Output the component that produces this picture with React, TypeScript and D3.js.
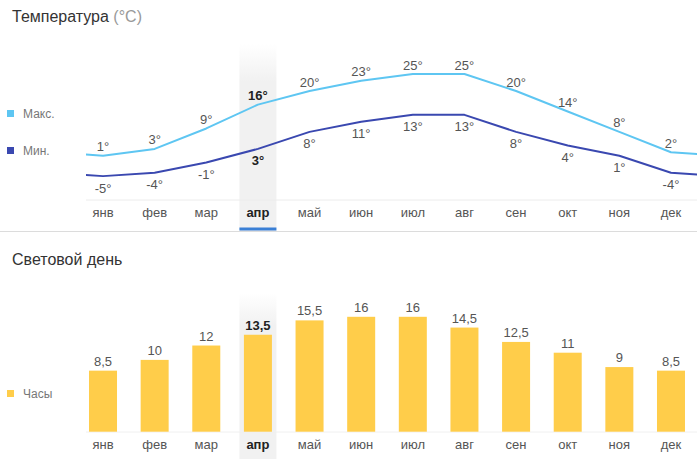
import * as d3 from 'd3'

const months = ['янв', 'фев', 'мар', 'апр', 'май', 'июн', 'июл', 'авг', 'сен', 'окт', 'ноя', 'дек']
const tempMax = [1, 3, 9, 16, 20, 23, 25, 25, 20, 14, 8, 2]
const tempMin = [-5, -4, -1, 3, 8, 11, 13, 13, 8, 4, 1, -4]
const daylight = [8.5, 10, 12, 13.5, 15.5, 16, 16, 14.5, 12.5, 11, 9, 8.5]
const daylightLabels = ['8,5', '10', '12', '13,5', '15,5', '16', '16', '14,5', '12,5', '11', '9', '8,5']
const current = 'апр'

const W = 700
const H = 459
const FONT = '"Liberation Sans", Arial, sans-serif'
const MAX_COLOR = '#5ec6f2'
const MIN_COLOR = '#3a48b0'
const BAR_COLOR = '#ffcd4a'

export default function App() {
  const x = d3.scaleBand<string>().domain(months).range([77.2, 696.8])
  const step = x.step()
  const cx = (m: string) => (x(m) as number) + x.bandwidth() / 2

  // temperature scale
  const yT = d3.scaleLinear().domain([1, 25]).range([155.7, 74])

  // wrap the series around so the line runs out past the edges
  const wrap = (vals: number[]) => {
    const pts: [number, number][] = vals.map((v, i) => [cx(months[i]), yT(v)])
    pts.unshift([cx(months[0]) - step, yT(vals[vals.length - 1])])
    pts.push([cx(months[11]) + step, yT(vals[0])])
    return pts
  }
  const line = d3.line<[number, number]>().curve(d3.curveLinear)

  // daylight scale
  const yB = d3.scaleLinear().domain([0, 16]).range([431.7, 316.8])
  const barW = 28

  const bandX = cx(current) - 18.5
  const bandW = 37

  return (
    <svg width={W} height={H} style={{ position: 'absolute', left: 0, top: 0 }} fontFamily={FONT}>
      <defs>
        <linearGradient id="band1" x1="0" y1="0" x2="0" y2="1">
          <stop offset="0" stopColor="#f1f1f1" stopOpacity="0" />
          <stop offset="0.2" stopColor="#f1f1f1" stopOpacity="1" />
          <stop offset="1" stopColor="#f1f1f1" stopOpacity="1" />
        </linearGradient>
        <clipPath id="plotClip">
          <rect x={86} y={0} width={611} height={232} />
        </clipPath>
      </defs>
      <rect x={0} y={0} width={W} height={H} fill="#fff" />

      {/* ---- temperature ---- */}
      <rect x={bandX} y={44} width={bandW} height={187} fill="url(#band1)" />
      <rect x={bandX} y={293} width={bandW} height={166} fill="url(#band1)" />

      <text x={12} y={22} fontSize={16} fill="#333">
        Температура <tspan fill="#999">(°C)</tspan>
      </text>

      <rect x={7} y={110} width={7} height={7} fill={MAX_COLOR} />
      <text x={23} y={117.5} fontSize={12} fill="#777">Макс.</text>
      <rect x={7} y={147} width={7} height={7} fill={MIN_COLOR} />
      <text x={23} y={154.5} fontSize={12} fill="#777">Мин.</text>

      <line x1={86} x2={697} y1={200} y2={200} stroke="#ececec" />

      <g clipPath="url(#plotClip)">
        <path d={line(wrap(tempMax)) as string} fill="none" stroke={MAX_COLOR} strokeWidth={2} strokeLinejoin="round" />
        <path d={line(wrap(tempMin)) as string} fill="none" stroke={MIN_COLOR} strokeWidth={2} strokeLinejoin="round" />
      </g>

      {months.map((m, i) => {
        const bold = m === current
        return (
          <g key={m} fontSize={13} textAnchor="middle">
            <text x={cx(m)} y={yT(tempMax[i]) - 4.5} fill={bold ? '#222' : '#555'} fontWeight={bold ? 'bold' : 'normal'}>
              {tempMax[i]}°
            </text>
            <text x={cx(m)} y={yT(tempMin[i]) + 16.5} fill={bold ? '#222' : '#555'} fontWeight={bold ? 'bold' : 'normal'}>
              {tempMin[i]}°
            </text>
            <text x={cx(m)} y={217} fill={bold ? '#222' : '#555'} fontWeight={bold ? 'bold' : 'normal'}>
              {m}
            </text>
          </g>
        )
      })}

      <rect x={bandX} y={227.5} width={bandW} height={3} fill="#3a7fd5" />
      <line x1={0} x2={697} y1={231.5} y2={231.5} stroke="#dcdcdc" />

      {/* ---- daylight ---- */}
      <text x={12} y={265} fontSize={16} fill="#333">Световой день</text>

      <rect x={7} y={390} width={7} height={7} fill={BAR_COLOR} />
      <text x={23} y={397.5} fontSize={12} fill="#777">Часы</text>

      <line x1={86} x2={697} y1={432} y2={432} stroke="#f0f0f0" />

      {months.map((m, i) => {
        const bold = m === current
        return (
          <g key={m} fontSize={13} textAnchor="middle">
            <rect x={cx(m) - barW / 2} y={yB(daylight[i])} width={barW} height={yB(0) - yB(daylight[i])} fill={BAR_COLOR} />
            <text x={cx(m)} y={yB(daylight[i]) - 5} fill={bold ? '#222' : '#555'} fontWeight={bold ? 'bold' : 'normal'}>
              {daylightLabels[i]}
            </text>
            <text x={cx(m)} y={448.5} fill={bold ? '#222' : '#555'} fontWeight={bold ? 'bold' : 'normal'}>
              {m}
            </text>
          </g>
        )
      })}
    </svg>
  )
}
